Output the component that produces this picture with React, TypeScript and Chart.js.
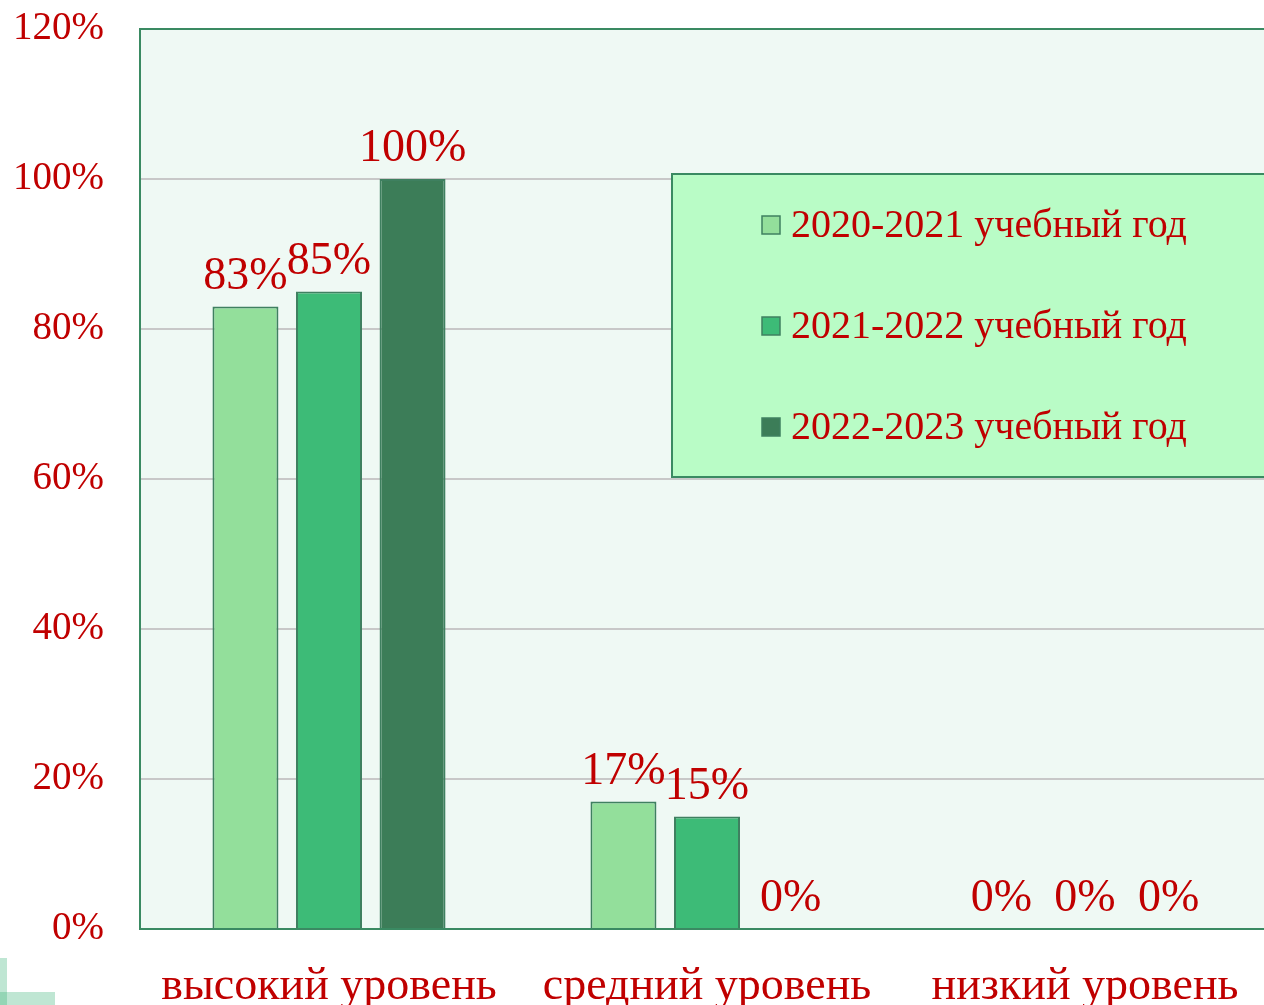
import React, { useEffect, useRef } from "react";
import { Chart, registerables } from "chart.js";

Chart.register(...registerables);

const categories = ["высокий уровень", "средний уровень", "низкий уровень"];
const seriesLabels = ["2020-2021 учебный год", "2021-2022 учебный год", "2022-2023 учебный год"];
const series2020 = [83, 17, 0];
const series2021 = [85, 15, 0];
const series2022 = [100, 0, 0];
const seriesColors = ["#93df9b", "#3dbb77", "#3c7d58"];
const yTicks = [0, 20, 40, 60, 80, 100, 120];

const RED = "#c00000";
const FONT = "'Liberation Serif', 'DejaVu Serif', serif";

const areaPlugin = {
  id: "areaBg",
  beforeDraw(chart: any) {
    const { ctx, chartArea } = chart;
    ctx.save();
    ctx.fillStyle = "#eff9f4";
    ctx.fillRect(chartArea.left, chartArea.top, chartArea.right - chartArea.left, chartArea.bottom - chartArea.top);
    ctx.restore();
  },
  afterDatasetsDraw(chart: any) {
    const { ctx, chartArea } = chart;
    ctx.save();
    ctx.strokeStyle = "#3a8a62";
    ctx.lineWidth = 2;
    ctx.strokeRect(chartArea.left, chartArea.top, chartArea.right - chartArea.left, chartArea.bottom - chartArea.top);
    ctx.restore();
  },
};

const labelPlugin = {
  id: "valueLabels",
  afterDatasetsDraw(chart: any) {
    const { ctx } = chart;
    ctx.save();
    ctx.fillStyle = RED;
    ctx.font = `46px ${FONT}`;
    ctx.textAlign = "center";
    ctx.textBaseline = "alphabetic";
    chart.data.datasets.forEach((ds: any, i: number) => {
      const meta = chart.getDatasetMeta(i);
      meta.data.forEach((el: any, j: number) => {
        ctx.fillText(ds.data[j] + "%", el.x, el.y - 18);
      });
    });
    ctx.restore();
  },
};

const legendPlugin = {
  id: "customLegend",
  afterDraw(chart: any) {
    const { ctx } = chart;
    ctx.save();
    const bx = 672, by = 174, bw = 700, bh = 303;
    ctx.fillStyle = "#b9fcc6";
    ctx.fillRect(bx, by, bw, bh);
    ctx.strokeStyle = "#3a8a62";
    ctx.lineWidth = 2;
    ctx.strokeRect(bx, by, bw, bh);
    chart.data.datasets.forEach((ds: any, i: number) => {
      const cy = 225 + i * 101;
      ctx.fillStyle = ds.backgroundColor;
      ctx.fillRect(762, cy - 9, 18, 18);
      ctx.strokeStyle = "#3f8060";
      ctx.lineWidth = 1.5;
      ctx.strokeRect(762, cy - 9, 18, 18);
      ctx.fillStyle = RED;
      ctx.font = `40px ${FONT}`;
      ctx.textAlign = "left";
      ctx.textBaseline = "middle";
      ctx.fillText(ds.label, 791, cy + 1);
    });
    ctx.restore();
  },
};

export default function App() {
  const ref = useRef<HTMLCanvasElement | null>(null);
  useEffect(() => {
    if (!ref.current) return;
    const data = [series2020, series2021, series2022];
    const chart = new Chart(ref.current, {
      type: "bar",
      data: {
        labels: categories,
        datasets: data.map((d, i) => ({
          label: seriesLabels[i],
          data: d,
          backgroundColor: seriesColors[i],
          borderColor: "#3f8060",
          borderWidth: 2,
          barPercentage: 0.79,
          categoryPercentage: 0.663,
        })),
      },
      options: {
        animation: false,
        responsive: false,
        maintainAspectRatio: false,
        layout: { padding: { top: 29, right: 16, left: 0, bottom: 0 } },
        plugins: { legend: { display: false }, tooltip: { enabled: false } },
        scales: {
          x: {
            grid: { display: false, drawTicks: false },
            border: { display: false },
            ticks: { color: RED, font: { family: FONT, size: 46 }, padding: 30, maxRotation: 0 },
            afterFit: (s: any) => {
              s.height = 76;
              s.paddingLeft = 0;
              s.paddingRight = 0;
              s.paddingTop = 0;
              s.paddingBottom = 0;
            },
          },
          y: {
            min: 0,
            max: 120,
            afterBuildTicks: (s: any) => { s.ticks = yTicks.map((v) => ({ value: v })); },
            grid: { color: "#c8c8c8", lineWidth: 2, drawTicks: false },
            border: { display: false },
            ticks: {
              color: RED,
              font: { family: FONT, size: 39 },
              padding: 36,
              callback: (v: any) => v + "%",
            },
            afterFit: (s: any) => {
              s.width = 140;
              s.paddingTop = 0;
              s.paddingBottom = 0;
              s.paddingLeft = 0;
              s.paddingRight = 0;
            },
          },
        },
      },
      plugins: [areaPlugin, labelPlugin, legendPlugin],
    });
    return () => chart.destroy();
  }, []);
  return (
    <div style={{ position: "fixed", left: 0, top: 0, width: 1264, height: 1005, overflow: "hidden", background: "#fff" }}>
      <canvas ref={ref} width={1290} height={1005} style={{ display: "block" }} />
      <div style={{ position: "absolute", left: 0, top: 958, width: 7, height: 47, background: "rgba(60,180,120,0.33)" }} />
      <div style={{ position: "absolute", left: 0, top: 992, width: 55, height: 13, background: "rgba(60,180,120,0.33)" }} />
    </div>
  );
}
